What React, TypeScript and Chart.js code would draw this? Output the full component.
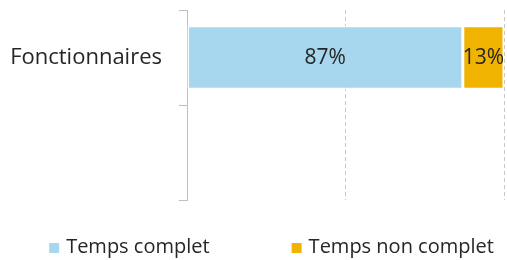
import React, { useEffect, useRef } from "react";
import { Chart, registerables } from "chart.js";

Chart.register(...registerables);

const categories = ["Fonctionnaires", ""];
const seriesNames = ["Temps complet", "Temps non complet"];
const tempsComplet = [87, null];
const tempsNonComplet = [13, null];
const seriesColors = ["#a7d7ee", "#f0b400"];
const xTicks = [0, 50, 100];

const FONT = "'Open Sans', sans-serif";
const TEXT = "#262626";

const valueLabels = {
  id: "valueLabels",
  afterDatasetsDraw(chart: any) {
    const ctx = chart.ctx;
    ctx.save();
    ctx.font = `21px ${FONT}`;
    ctx.fillStyle = TEXT;
    ctx.textAlign = "center";
    ctx.textBaseline = "middle";
    chart.data.datasets.forEach((ds: any, di: number) => {
      const meta = chart.getDatasetMeta(di);
      meta.data.forEach((el: any, i: number) => {
        const v = ds.data[i];
        if (v == null) return;
        const p = el.getCenterPoint();
        ctx.fillText(`${v}%`, p.x, p.y + 1);
      });
    });
    ctx.restore();
  },
};

const customLegend = {
  id: "customLegend",
  afterDraw(chart: any, _args: any, opts: any) {
    const ctx = chart.ctx;
    ctx.save();
    ctx.font = `${opts.fontSize}px ${FONT}`;
    ctx.textBaseline = "middle";
    ctx.textAlign = "left";
    const box = opts.box;
    const textGap = opts.textGap;
    const items = chart.data.datasets.map((ds: any) => ({
      label: ds.label,
      color: ds.backgroundColor,
      w: box + textGap + ctx.measureText(ds.label).width,
    }));
    const total =
      items.reduce((s: number, it: any) => s + it.w, 0) + opts.itemGap * (items.length - 1);
    let x = (chart.width - total) / 2 + opts.offsetX;
    const y = opts.y;
    items.forEach((it: any) => {
      ctx.fillStyle = it.color;
      ctx.fillRect(x, y - box / 2 + 1, box, box);
      ctx.fillStyle = TEXT;
      ctx.fillText(it.label, x + box + textGap, y);
      x += it.w + opts.itemGap;
    });
    ctx.restore();
  },
};

export default function App() {
  const ref = useRef<HTMLCanvasElement | null>(null);
  useEffect(() => {
    if (!ref.current) return;
    const barStyle = {
      borderColor: "#ffffff",
      borderWidth: 1.5,
      borderSkipped: false,
      barPercentage: 0.67,
      categoryPercentage: 1,
    };
    const chart = new Chart(ref.current, {
      type: "bar",
      data: {
        labels: categories,
        datasets: [
          { label: seriesNames[0], data: tempsComplet, backgroundColor: seriesColors[0], ...barStyle },
          { label: seriesNames[1], data: tempsNonComplet, backgroundColor: seriesColors[1], ...barStyle },
        ],
      } as any,
      options: {
        indexAxis: "y",
        animation: false,
        responsive: true,
        maintainAspectRatio: false,
        layout: { padding: { top: 10, right: 3, bottom: 60, left: 0 } },
        plugins: {
          legend: { display: false },
          tooltip: { enabled: false },
          customLegend: { box: 10, textGap: 7, itemGap: 82, offsetX: 18, y: 247, fontSize: 20 },
        } as any,
        scales: {
          x: {
            stacked: true,
            min: xTicks[0],
            max: xTicks[xTicks.length - 1],
            afterBuildTicks: (axis: any) => {
              axis.ticks = xTicks.map((v) => ({ value: v }));
            },
            afterFit: (axis: any) => {
              axis.height = 0;
              axis.paddingLeft = 0;
              axis.paddingRight = 0;
            },
            ticks: { display: false },
            border: { display: false, dash: [4, 3] },
            grid: {
              drawTicks: false,
              color: (c: any) => (c.tick && c.tick.value === 0 ? "rgba(0,0,0,0)" : "#c8c8c8"),
              lineWidth: 1,
            },
          },
          y: {
            stacked: true,
            afterFit: (axis: any) => {
              axis.width = 187;
              axis.paddingTop = 0;
              axis.paddingBottom = 0;
            },
            border: { display: true, color: "#bfbfbf", width: 1 },
            grid: {
              display: true,
              drawOnChartArea: false,
              drawTicks: true,
              tickLength: 8,
              color: "#bfbfbf",
            },
            ticks: {
              padding: 17,
              color: TEXT,
              font: { family: FONT, size: 22 },
            },
          },
        },
      } as any,
      plugins: [valueLabels, customLegend],
    });
    return () => chart.destroy();
  }, []);
  return (
    <div style={{ position: "absolute", left: 0, top: 0, width: 507, height: 260 }}>
      <canvas ref={ref} />
    </div>
  );
}
